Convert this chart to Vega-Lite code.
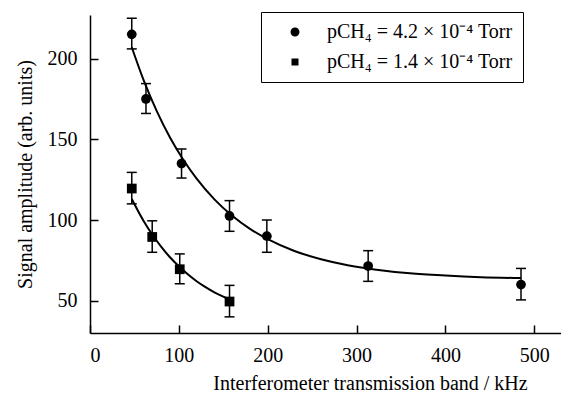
{
  "$schema": "https://vega.github.io/schema/vega-lite/v6.json",
  "width": 471,
  "height": 318,
  "autosize": {"type": "none"},
  "padding": {"left": 90, "top": 15, "right": 0, "bottom": 63},
  "config": {
    "view": {"stroke": null},
    "font": "Liberation Serif",
    "axis": {
      "domainColor": "black", "domainWidth": 1.5,
      "tickColor": "black", "tickWidth": 1.5, "tickSize": -8,
      "labelFont": "Liberation Serif", "labelFontSize": 20, "labelColor": "black",
      "titleFont": "Liberation Serif", "titleFontSize": 20, "titleFontWeight": "normal", "titleColor": "black",
      "grid": false
    }
  },
  "datasets": {
    "pts": [
      {"series": "pCH₄ = 4.2 × 10⁻⁴ Torr", "x": 47, "y": 215, "lo": 206, "hi": 225},
      {"series": "pCH₄ = 4.2 × 10⁻⁴ Torr", "x": 63, "y": 175, "lo": 166, "hi": 184.5},
      {"series": "pCH₄ = 4.2 × 10⁻⁴ Torr", "x": 103, "y": 135, "lo": 126, "hi": 144},
      {"series": "pCH₄ = 4.2 × 10⁻⁴ Torr", "x": 157, "y": 102.5, "lo": 93, "hi": 112},
      {"series": "pCH₄ = 4.2 × 10⁻⁴ Torr", "x": 199, "y": 90, "lo": 80, "hi": 100},
      {"series": "pCH₄ = 4.2 × 10⁻⁴ Torr", "x": 313, "y": 71.5, "lo": 62, "hi": 81},
      {"series": "pCH₄ = 4.2 × 10⁻⁴ Torr", "x": 485, "y": 60, "lo": 50.5, "hi": 70},
      {"series": "pCH₄ = 1.4 × 10⁻⁴ Torr", "x": 47, "y": 119.5, "lo": 110, "hi": 129.5},
      {"series": "pCH₄ = 1.4 × 10⁻⁴ Torr", "x": 70, "y": 89.5, "lo": 80, "hi": 99.5},
      {"series": "pCH₄ = 1.4 × 10⁻⁴ Torr", "x": 101, "y": 69.5, "lo": 60.5, "hi": 79},
      {"series": "pCH₄ = 1.4 × 10⁻⁴ Torr", "x": 157, "y": 49.5, "lo": 40, "hi": 59.5}
    ],
    "fit": [
      {"series": "a", "x": 47, "y": 207},
      {"series": "a", "x": 60, "y": 187.1},
      {"series": "a", "x": 75, "y": 167.6},
      {"series": "a", "x": 90, "y": 151.1},
      {"series": "a", "x": 105, "y": 137.3},
      {"series": "a", "x": 120, "y": 125.6},
      {"series": "a", "x": 140, "y": 112.8},
      {"series": "a", "x": 160, "y": 102.6},
      {"series": "a", "x": 180, "y": 94.5},
      {"series": "a", "x": 200, "y": 88.1},
      {"series": "a", "x": 230, "y": 80.8},
      {"series": "a", "x": 260, "y": 75.7},
      {"series": "a", "x": 290, "y": 72},
      {"series": "a", "x": 320, "y": 69.4},
      {"series": "a", "x": 360, "y": 67},
      {"series": "a", "x": 400, "y": 65.6},
      {"series": "a", "x": 440, "y": 64.6},
      {"series": "a", "x": 485, "y": 64},
      {"series": "b", "x": 47, "y": 113},
      {"series": "b", "x": 60, "y": 99.7},
      {"series": "b", "x": 70, "y": 91},
      {"series": "b", "x": 80, "y": 83.5},
      {"series": "b", "x": 90, "y": 76.9},
      {"series": "b", "x": 100, "y": 71.3},
      {"series": "b", "x": 110, "y": 66.4},
      {"series": "b", "x": 120, "y": 62.1},
      {"series": "b", "x": 130, "y": 58.4},
      {"series": "b", "x": 140, "y": 55.2},
      {"series": "b", "x": 150, "y": 52.5},
      {"series": "b", "x": 157, "y": 50.7}
    ]
  },
  "resolve": {"scale": {"shape": "independent"}, "legend": {"shape": "independent"}},
  "layer": [
    {
      "data": {"name": "fit"},
      "mark": {"type": "line", "color": "black", "strokeWidth": 2, "interpolate": "monotone"},
      "encoding": {
        "x": {"field": "x", "type": "quantitative", "title": "Interferometer transmission band / kHz",
              "scale": {"domain": [0, 530], "nice": false, "zero": false},
              "axis": {"values": [0, 100, 200, 300, 400, 500],
                       "labelPadding": 20, "titlePadding": 8, "titleX": 280}},
        "y": {"field": "y", "type": "quantitative", "title": "Signal amplitude (arb. units)",
              "scale": {"domain": [30, 227], "nice": false, "zero": false},
              "axis": {"values": [50, 100, 150, 200],
                       "labelPadding": 21, "titlePadding": 12}},
        "detail": {"field": "series"}
      }
    },
    {
      "data": {"name": "pts"},
      "mark": {"type": "errorbar", "ticks": {"size": 10, "thickness": 1.5, "color": "black", "opacity": 1}, "rule": {"strokeWidth": 1.5, "color": "black", "opacity": 1}, "color": "black"},
      "encoding": {
        "x": {"field": "x", "type": "quantitative", "title": "Interferometer transmission band / kHz"},
        "y": {"field": "lo", "type": "quantitative", "title": "Signal amplitude (arb. units)"},
        "y2": {"field": "hi"}
      }
    },
    {
      "data": {"name": "pts"},
      "mark": {"type": "point", "filled": true, "color": "black", "opacity": 1, "size": 95},
      "encoding": {
        "x": {"field": "x", "type": "quantitative", "title": "Interferometer transmission band / kHz"},
        "y": {"field": "y", "type": "quantitative", "title": "Signal amplitude (arb. units)"},
        "shape": {"field": "series", "type": "nominal",
                  "scale": {"domain": ["pCH₄ = 4.2 × 10⁻⁴ Torr", "pCH₄ = 1.4 × 10⁻⁴ Torr"], "range": ["circle", "square"]},
                  "legend": null}
      }
    },
    {
      "data": {"name": "pts"},
      "mark": {"type": "point", "filled": true, "color": "black", "fill": "black", "stroke": "black", "strokeWidth": 2, "opacity": 0, "size": 1},
      "encoding": {
        "x": {"field": "x", "type": "quantitative", "title": "Interferometer transmission band / kHz"},
        "y": {"field": "y", "type": "quantitative", "title": "Signal amplitude (arb. units)"},
        "shape": {"field": "series", "type": "nominal",
                  "scale": {"domain": ["pCH₄ = 4.2 × 10⁻⁴ Torr", "pCH₄ = 1.4 × 10⁻⁴ Torr"],
                            "range": ["M-4,0H4M0.9,0A0.9,0.9,0,1,1,-0.9,0A0.9,0.9,0,1,1,0.9,0Z", "M-4,0H4M-0.7,-0.7H0.7V0.7H-0.7Z"]},
                  "legend": {
                    "title": null,
                    "orient": "none", "legendX": 171, "legendY": -3,
                    "padding": 10,
                    "strokeColor": "black",
                    "labelFont": "Liberation Serif", "labelFontSize": 20, "labelColor": "black", "labelLimit": 400,
                    "symbolSize": 100, "symbolOffset": 14, "labelOffset": 22,
                    "symbolOpacity": 1, "symbolFillColor": "black", "symbolStrokeColor": "black", "symbolStrokeWidth": 2,
                    "rowPadding": 10
                  }}
      }
    }
  ]
}
